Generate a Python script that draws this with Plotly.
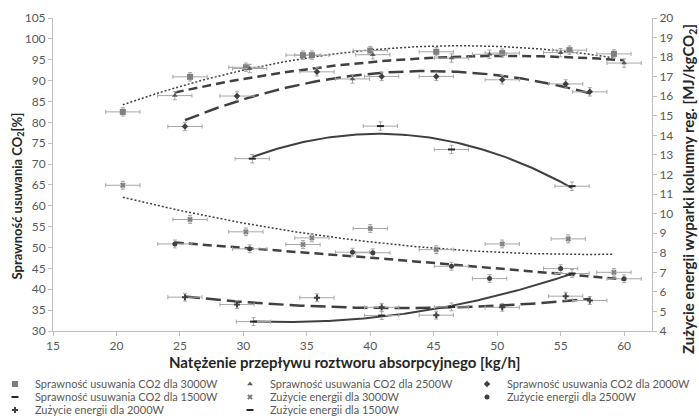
import numpy as np
import plotly.graph_objects as go

# ---- data ----
x_eff_3000 = [20.5, 25.8, 30.2, 34.7, 35.4, 40.0, 45.2, 50.4, 55.7, 59.2]
y_eff_3000 = [82.5, 90.9, 93.2, 96.1, 96.1, 97.2, 96.9, 96.6, 97.3, 96.4]
x_eff_2500 = [24.6, 30.5, 38.6, 40.2, 46.4, 49.4, 55.0, 60.0]
y_eff_2500 = [86.4, 92.9, 90.4, 96.2, 95.4, 96.3, 96.7, 94.2]
x_eff_2000 = [25.4, 29.5, 35.8, 40.9, 45.2, 50.4, 55.4, 57.3]
y_eff_2000 = [79.0, 86.3, 92.1, 91.0, 91.0, 90.2, 89.2, 87.3]
x_eff_1500 = [30.7, 40.8, 46.4, 55.9]
y_eff_1500 = [71.3, 79.1, 73.5, 64.7]

x_en_3000 = [20.5, 25.8, 30.2, 34.7, 35.4, 40.0, 45.2, 50.4, 55.6, 59.2]
y_en_3000 = [11.45, 9.70, 9.07, 8.42, 8.76, 9.24, 8.16, 8.45, 8.71, 7.00]
x_en_2500 = [24.6, 30.5, 38.6, 40.2, 46.4, 49.4, 55.0, 60.0]
y_en_2500 = [8.45, 8.20, 8.03, 8.00, 7.31, 6.68, 7.19, 6.67]
x_en_2000 = [25.4, 29.5, 35.8, 40.9, 45.2, 50.4, 55.4, 57.3]
y_en_2000 = [5.73, 5.35, 5.70, 5.21, 4.81, 5.21, 5.78, 5.56]
x_en_1500 = [30.8, 40.9, 46.4, 55.9]
y_en_1500 = [4.48, 4.79, 5.23, 6.94]

names = [
    "Sprawność usuwania CO2 dla 3000W",
    "Sprawność usuwania CO2 dla 2500W",
    "Sprawność usuwania CO2 dla 2000W",
    "Sprawność usuwania CO2 dla 1500W",
    "Zużycie energii dla 3000W",
    "Zużycie energii dla 2500W",
    "Zużycie energii dla 2000W",
    "Zużycie energii dla 1500W",
]

x_err = 1.35
eff_err = 1.0
en_err = 0.2

FONT = "Lato"
TXT = "#595959"
AX = "#bfbfbf"
LINE = "#404040"

series = [
    # x, y, axis, marker, trend dash, trend width, legend id
    (x_eff_3000, y_eff_3000, "y", dict(symbol="square", size=6, color="#7f7f7f"), "2px,2px", 1.5, "legend"),
    (x_eff_2500, y_eff_2500, "y", dict(symbol="triangle-up", size=5, color="#595959"), "9px,5px", 2.5, "legend2"),
    (x_eff_2000, y_eff_2000, "y", dict(symbol="diamond", size=5, color="#404040"), "15px,6px", 2.5, "legend3"),
    (x_eff_1500, y_eff_1500, "y", dict(symbol="line-ew", size=5, color="#262626", line=dict(width=2, color="#262626")), "solid", 2, "legend4"),
    (x_en_3000, y_en_3000, "y2", dict(symbol="x", size=5, color="#7f7f7f"), "2px,2px", 1.5, "legend5"),
    (x_en_2500, y_en_2500, "y2", dict(symbol="circle", size=5, color="#404040"), "9px,5px", 2.5, "legend6"),
    (x_en_2000, y_en_2000, "y2", dict(symbol="cross", size=5, color="#404040"), "15px,6px", 2.5, "legend7"),
    (x_en_1500, y_en_1500, "y2", dict(symbol="line-ew", size=5, color="#262626", line=dict(width=2, color="#262626")), "solid", 2, "legend8"),
]

fig = go.Figure()

# trendlines (2nd order polynomial fits of each series)
for xs, ys, ax, mk, dash, w, lg in series:
    xa = np.array(xs)
    coef = np.polyfit(xa, np.array(ys), 2)
    xt = np.linspace(xa.min(), xa.max(), 120)
    fig.add_trace(go.Scatter(x=xt, y=np.polyval(coef, xt), mode="lines", yaxis=ax,
                             line=dict(color=LINE, width=w, dash=dash),
                             showlegend=False, hoverinfo="skip"))

for (xs, ys, ax, mk, dash, w, lg), nm in zip(series, names):
    ev = eff_err if ax == "y" else en_err
    fig.add_trace(go.Scatter(
        x=xs, y=ys, mode="markers", yaxis=ax, name=nm, legend=lg, marker=mk,
        error_x=dict(type="constant", value=x_err, color="#a6a6a6", thickness=1, width=2),
        error_y=dict(type="constant", value=ev, color="#a6a6a6", thickness=1, width=2),
    ))

# plot area pixel geometry
L, R, T, B = 53, 47, 18, 88
W, H = 699, 419
pw, ph = W - L - R, H - T - B

def px2x(p):
    return (p - L) / pw

def px2y(p):
    return (H - B - p) / ph

col_px = [-5, 230, 467]
row_px = [384, 397, 410]
slots = [(0, 0), (1, 0), (2, 0), (0, 1), (1, 1), (2, 1), (0, 2), (1, 2)]
legends = {}
for i, (c, r) in enumerate(slots):
    key = "legend" if i == 0 else f"legend{i+1}"
    legends[key] = dict(x=px2x(col_px[c]), y=px2y(row_px[r]), xanchor="left", yanchor="middle",
                        orientation="h", bgcolor="rgba(0,0,0,0)", borderwidth=0,
                        font=dict(family=FONT, size=11, color=TXT))

fig.update_layout(
    width=W, height=H,
    margin=dict(l=L, r=R, t=T, b=B, autoexpand=False),
    plot_bgcolor="white", paper_bgcolor="white",
    font=dict(family=FONT, size=12, color=TXT),
    xaxis=dict(range=[15, 62.2], tickvals=[15, 20, 25, 30, 35, 40, 45, 50, 55, 60],
               showline=True, linecolor=AX, linewidth=1, ticks="outside", ticklen=4, tickcolor=AX,
               showgrid=False, zeroline=False, automargin=False, tickfont=dict(size=12, color=TXT)),
    yaxis=dict(range=[30, 105], dtick=5, showline=True, linecolor=AX, linewidth=1,
               ticks="outside", ticklen=4, tickcolor=AX, showgrid=False, zeroline=False,
               automargin=False, tickfont=dict(size=12, color=TXT)),
    yaxis2=dict(range=[4, 20], dtick=1, overlaying="y", side="right", showline=True,
                linecolor=AX, linewidth=1, ticks="outside", ticklen=4, tickcolor=AX,
                showgrid=False, zeroline=False, automargin=False, tickfont=dict(size=12, color=TXT)),
    showlegend=True,
    **legends,
)

fig.add_annotation(text="<b>Natężenie przepływu roztworu absorpcyjnego [kg/h]</b>",
                   xref="paper", yref="paper", x=px2x(344.5), y=px2y(362),
                   xanchor="center", yanchor="middle", showarrow=False,
                   font=dict(family=FONT, size=15, color="#262626"))
fig.add_annotation(text="<b>Sprawność usuwania CO<sub>2</sub>[%]</b>",
                   xref="paper", yref="paper", x=px2x(17), y=px2y(196.5), textangle=-90,
                   xanchor="center", yanchor="middle", showarrow=False,
                   font=dict(family=FONT, size=13, color="#262626"))
fig.add_annotation(text="<b>Zużycie energii wyparki kolumny reg. [MJ/kgCO<sub>2</sub>]</b>",
                   xref="paper", yref="paper", x=px2x(689), y=px2y(189), textangle=-90,
                   xanchor="center", yanchor="middle", showarrow=False,
                   font=dict(family=FONT, size=15, color="#262626"))

fig.write_html("out.html", config={"displayModeBar": False},
               post_script="document.body.style.margin='0';")
